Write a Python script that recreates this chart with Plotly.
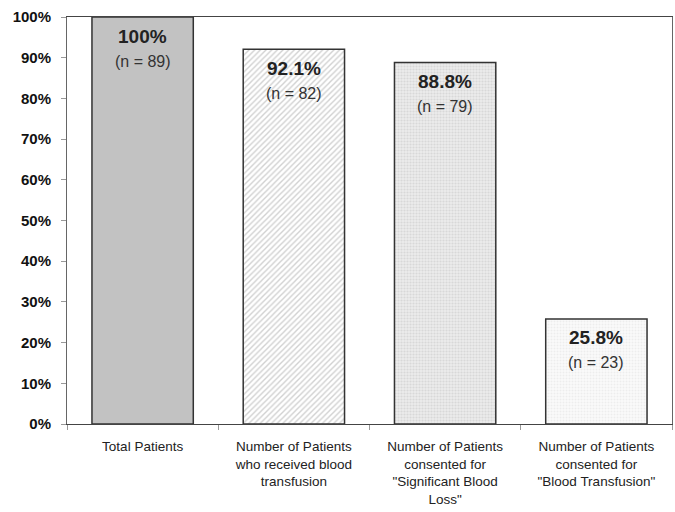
import plotly.graph_objects as go

categories = [
    "Total Patients",
    "Number of Patients<br>who received blood<br>transfusion",
    "Number of Patients<br>consented for<br>\"Significant Blood<br>Loss\"",
    "Number of Patients<br>consented for<br>\"Blood Transfusion\"",
]
percent_values = [100, 92.1, 88.8, 25.8]
n_values = [89, 82, 79, 23]
y_ticks = list(range(0, 101, 10))

pattern_shapes = ["", "/", ".", "."]
pattern_fg = ["#c2c2c2", "#a4a4a4", "#c4c4c4", "#e0e0e0"]
bar_colors = ["#c2c2c2", "#ffffff", "#ececec", "#fbfbfb"]
pattern_size = [6, 4, 3, 3]
pattern_solidity = [0.3, 0.35, 0.4, 0.4]

font_family = "Liberation Sans, Arial, sans-serif"

fig = go.Figure()
for cat, v, shp, fg, bg, sz, sol in zip(categories, percent_values, pattern_shapes,
                                         pattern_fg, bar_colors, pattern_size, pattern_solidity):
    fig.add_trace(go.Bar(
        x=[cat],
        y=[v],
        width=0.67,
        marker=dict(
            color=bg,
            line=dict(color="#333333", width=1.5),
            pattern=dict(shape=shp, fgcolor=fg, bgcolor=bg, size=sz, solidity=sol),
        ),
        hoverinfo="skip",
    ))

annotations = []
for cat, v, n in zip(categories, percent_values, n_values):
    annotations.append(dict(
        x=cat, y=v, xref="x", yref="y", text=f"<b>{v:g}%</b>",
        showarrow=False, yanchor="middle", yshift=-19,
        font=dict(family=font_family, size=19, color="#222222"),
    ))
    annotations.append(dict(
        x=cat, y=v, xref="x", yref="y", text=f"(n = {n})",
        showarrow=False, yanchor="middle", yshift=-44,
        font=dict(family=font_family, size=16, color="#333333"),
    ))

fig.update_layout(
    width=675, height=512,
    margin=dict(l=67, r=3, t=17, b=88),
    paper_bgcolor="white", plot_bgcolor="white",
    showlegend=False,
    annotations=annotations,
    font=dict(family=font_family, color="#222222"),
    barmode="overlay",
)
fig.update_yaxes(
    range=[0, 100], tickvals=y_ticks, ticktext=[f"{t}%" for t in y_ticks],
    tickfont=dict(family=font_family, size=15, color="#111111", weight="bold"),
    showgrid=False, zeroline=False, automargin=False,
    showline=True, linecolor="#666666", linewidth=1, mirror=True,
    ticks="outside", ticklen=5, tickcolor="#999999", ticklabelstandoff=7,
)
fig.update_xaxes(
    tickfont=dict(family=font_family, size=13.5, color="#222222"),
    showgrid=False, automargin=False,
    showline=True, linecolor="#444444", linewidth=1, mirror=True,
    ticks="outside", ticklen=5, tickcolor="#999999", tickson="boundaries",
    tickangle=0, ticklabelstandoff=10,
)

fig.write_html("out.html", config={"displayModeBar": False},
               post_script="document.body.style.margin='0';")
